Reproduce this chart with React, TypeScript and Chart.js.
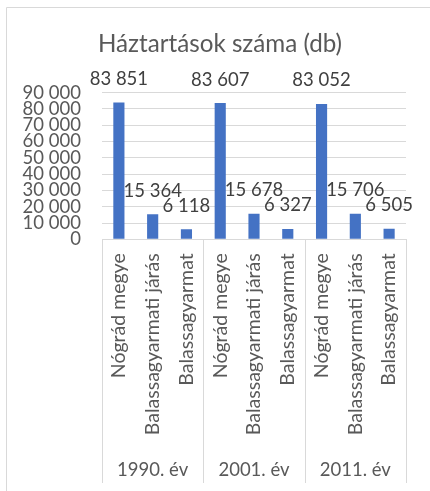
import React, { useEffect, useRef } from "react";
import { Chart, registerables } from "chart.js";

Chart.register(...registerables);

const chartTitle = "Háztartások száma (db)";
const categories = ["Nógrád megye", "Balassagyarmati járás", "Balassagyarmat"];
const groups = ["1990. év", "2001. év", "2011. év"];
const values1990 = [83851, 15364, 6118];
const values2001 = [83607, 15678, 6327];
const values2011 = [83052, 15706, 6505];
const yMin = 0;
const yMax = 90000;
const yStep = 10000;

const FONT = "Lato, 'Liberation Sans', sans-serif";
const TEXT = "#595959";
const GRID = "#D9D9D9";
const BAR = "#4472C4";

const allValues = [...values1990, ...values2001, ...values2011];
const allLabels = groups.flatMap(() => categories);

const fmt = (v: number) =>
  String(Math.round(v)).replace(/\B(?=(\d{3})+(?!\d))/g, " ");

const W = 430;
const H = 491;
const PLOT_TOP = 92.6;
const PLOT_LEFT = 102;
const PLOT_RIGHT = 406;
const AXIS_Y = 239.3;
const SEP_BOTTOM = 483;

const decorPlugin = {
  id: "decor",
  afterDatasetsDraw(chart: any) {
    const ctx = chart.ctx;
    const meta = chart.getDatasetMeta(0);
    ctx.save();
    ctx.font = `18.5px ${FONT}`;
    ctx.fillStyle = "#404040";
    ctx.textAlign = "center";
    ctx.textBaseline = "alphabetic";
    meta.data.forEach((bar: any, i: number) => {
      ctx.fillText(fmt(allValues[i]), bar.x, bar.y - 17.5);
    });
    ctx.restore();
  },
  afterDraw(chart: any) {
    const ctx = chart.ctx;
    const xs = chart.scales.x;
    const area = chart.chartArea;
    const n = categories.length;
    const bounds: number[] = [area.left];
    for (let g = 1; g < groups.length; g++) {
      bounds.push((xs.getPixelForValue(g * n - 1) + xs.getPixelForValue(g * n)) / 2);
    }
    bounds.push(area.right);
    ctx.save();
    ctx.strokeStyle = GRID;
    ctx.lineWidth = 1;
    ctx.beginPath();
    bounds.forEach((b) => {
      const x = Math.round(b) + 0.5;
      ctx.moveTo(x, area.bottom);
      ctx.lineTo(x, SEP_BOTTOM);
    });
    // outer frame
    ctx.moveTo(6.5, H);
    ctx.lineTo(6.5, 7.5);
    ctx.lineTo(W, 7.5);
    ctx.stroke();

    ctx.fillStyle = TEXT;
    ctx.font = `18.5px ${FONT}`;
    ctx.textAlign = "center";
    ctx.textBaseline = "alphabetic";
    groups.forEach((g, i) => {
      ctx.fillText(g, (bounds[i] + bounds[i + 1]) / 2, 476);
    });

    ctx.font = `24.2px ${FONT}`;
    ctx.fillText(chartTitle, 220, 52);
    ctx.restore();
  },
};

export default function App() {
  const ref = useRef<HTMLCanvasElement | null>(null);
  useEffect(() => {
    if (!ref.current) return;
    const chart = new Chart(ref.current, {
      type: "bar",
      data: {
        labels: allLabels,
        datasets: [
          {
            data: allValues,
            backgroundColor: BAR,
            categoryPercentage: 1,
            barPercentage: 0.33,
          },
        ],
      },
      options: {
        responsive: false,
        animation: false,
        devicePixelRatio: 1,
        layout: { padding: { top: PLOT_TOP, left: 0, right: W - PLOT_RIGHT, bottom: 0 } },
        plugins: {
          legend: { display: false },
          tooltip: { enabled: false },
          title: { display: false },
        },
        scales: {
          x: {
            grid: { display: false, drawTicks: false },
            border: { display: true, color: GRID, width: 1 },
            ticks: {
              autoSkip: false,
              minRotation: 90,
              maxRotation: 90,
              padding: 14,
              color: TEXT,
              font: { family: FONT, size: 19.5 },
            },
            afterFit: (s: any) => {
              s.height = H - AXIS_Y;
            },
          },
          y: {
            min: yMin,
            max: yMax,
            ticks: {
              stepSize: yStep,
              autoSkip: false,
              padding: 21,
              color: TEXT,
              font: { family: FONT, size: 18.5 },
              callback: (v: any) => fmt(Number(v)),
            },
            grid: { color: GRID, drawTicks: false, lineWidth: 1 },
            border: { display: false },
            afterFit: (s: any) => {
              s.width = PLOT_LEFT;
            },
          },
        },
      },
      plugins: [decorPlugin],
    });
    return () => chart.destroy();
  }, []);
  return (
    <div style={{ position: "absolute", left: 0, top: 0, width: W, height: H, background: "#fff" }}>
      <canvas ref={ref} width={W} height={H} style={{ display: "block" }} />
    </div>
  );
}
